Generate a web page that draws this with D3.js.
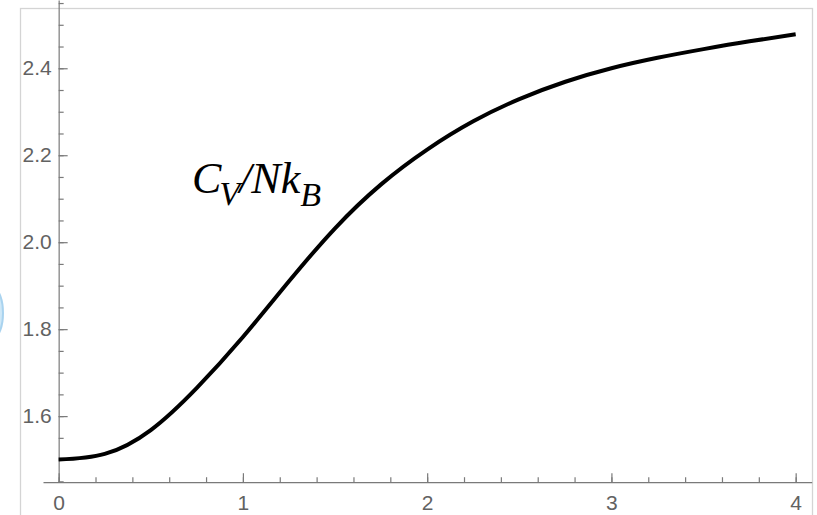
<!DOCTYPE html>
<html>
<head>
<meta charset="utf-8">
<script src="https://cdn.jsdelivr.net/npm/d3@7"></script>
<style>
  html, body { margin: 0; padding: 0; background: #fff; }
  svg { display: block; }
  .tick text { font-family: "Liberation Sans", Arial, sans-serif; font-size: 21px; fill: #626262; }
</style>
</head>
<body>
<svg id="chart" width="817" height="515"></svg>
<script>
// Reduced temperature and heat capacity per particle
const temps = [0, 0.25, 0.5, 0.75, 1.0, 1.25, 1.5, 1.75, 2.0, 2.25, 2.5, 2.75, 3.0, 3.25, 3.5, 3.75, 4.0];
const heatCapacity = [1.500, 1.513, 1.568, 1.665, 1.782, 1.910, 2.032, 2.133, 2.213, 2.278, 2.329, 2.369, 2.400, 2.424, 2.444, 2.462, 2.478];

const xMajorTicks = [0, 1, 2, 3, 4];
const xMinorTicks = d3.range(0, 4.01, 0.2).map(v => +v.toFixed(2));
const yMajorTicks = [1.6, 1.8, 2.0, 2.2, 2.4];
const yMinorTicks = d3.range(1.45, 2.551, 0.05).map(v => +v.toFixed(2));

const svg = d3.select("#chart");

// soft blue marker peeking in at the left edge
svg.append("ellipse")
  .attr("cx", -6).attr("cy", 313).attr("rx", 9).attr("ry", 24)
  .attr("fill", "#cfe8f7").attr("stroke", "#a9d3ef").attr("stroke-width", 2);

// light frame around the plot
svg.append("rect")
  .attr("x", 20.5).attr("y", 8.5).attr("width", 792).attr("height", 520)
  .attr("fill", "none").attr("stroke", "#d4d4d4").attr("stroke-width", 1.3);

const x = d3.scaleLinear().domain([-0.085, 4.087]).range([43, 811.7]);
const y = d3.scaleLinear().domain([1.448, 2.557]).range([482.2, 0]);

const axisColor = "#7a7a7a";

function styleAxis(g) {
  g.selectAll("path.domain").attr("stroke", axisColor).attr("stroke-width", 1.2);
  g.selectAll(".tick line").attr("stroke", axisColor).attr("stroke-width", 1.2);
}

// x axis: minor then major ticks, pointing into the plot
const xAxisY = y(1.448);
svg.append("g")
  .attr("transform", `translate(0,${xAxisY})`)
  .call(d3.axisBottom(x).tickValues(xMinorTicks).tickSizeInner(-5).tickSizeOuter(0).tickFormat(""))
  .call(styleAxis);
svg.append("g")
  .attr("transform", `translate(0,${xAxisY})`)
  .call(d3.axisBottom(x).tickValues(xMajorTicks).tickSizeInner(-9).tickSizeOuter(0).tickPadding(13).tickFormat(d3.format("d")))
  .call(styleAxis)
  .call(g => g.select("path.domain").remove());

// y axis
const yAxisX = x(0);
svg.append("g")
  .attr("transform", `translate(${yAxisX},0)`)
  .call(d3.axisLeft(y).tickValues(yMinorTicks).tickSizeInner(-5).tickSizeOuter(0).tickFormat(""))
  .call(styleAxis);
svg.append("g")
  .attr("transform", `translate(${yAxisX},0)`)
  .call(d3.axisLeft(y).tickValues(yMajorTicks).tickSizeInner(-9).tickSizeOuter(0).tickPadding(7).tickFormat(d3.format(".1f")))
  .call(styleAxis)
  .call(g => g.select("path.domain").remove());

// heat capacity curve
const line = d3.line()
  .x((d, i) => x(temps[i]))
  .y(d => y(d))
  .curve(d3.curveNatural);

svg.append("path")
  .datum(heatCapacity)
  .attr("d", line)
  .attr("fill", "none")
  .attr("stroke", "#000")
  .attr("stroke-width", 4);

// curve label C_V/Nk_B
const label = svg.append("text")
  .attr("x", 192).attr("y", 193)
  .attr("font-family", "'Liberation Serif', 'Times New Roman', serif")
  .attr("font-style", "italic")
  .attr("font-size", 44)
  .attr("fill", "#000");
label.append("tspan").text("C");
label.append("tspan").attr("font-size", 34).attr("dy", 12).attr("dx", -2).text("V");
label.append("tspan").attr("dy", -12).attr("dx", -1).text("/Nk");
label.append("tspan").attr("font-size", 34).attr("dy", 13).text("B");
</script>
</body>
</html>
